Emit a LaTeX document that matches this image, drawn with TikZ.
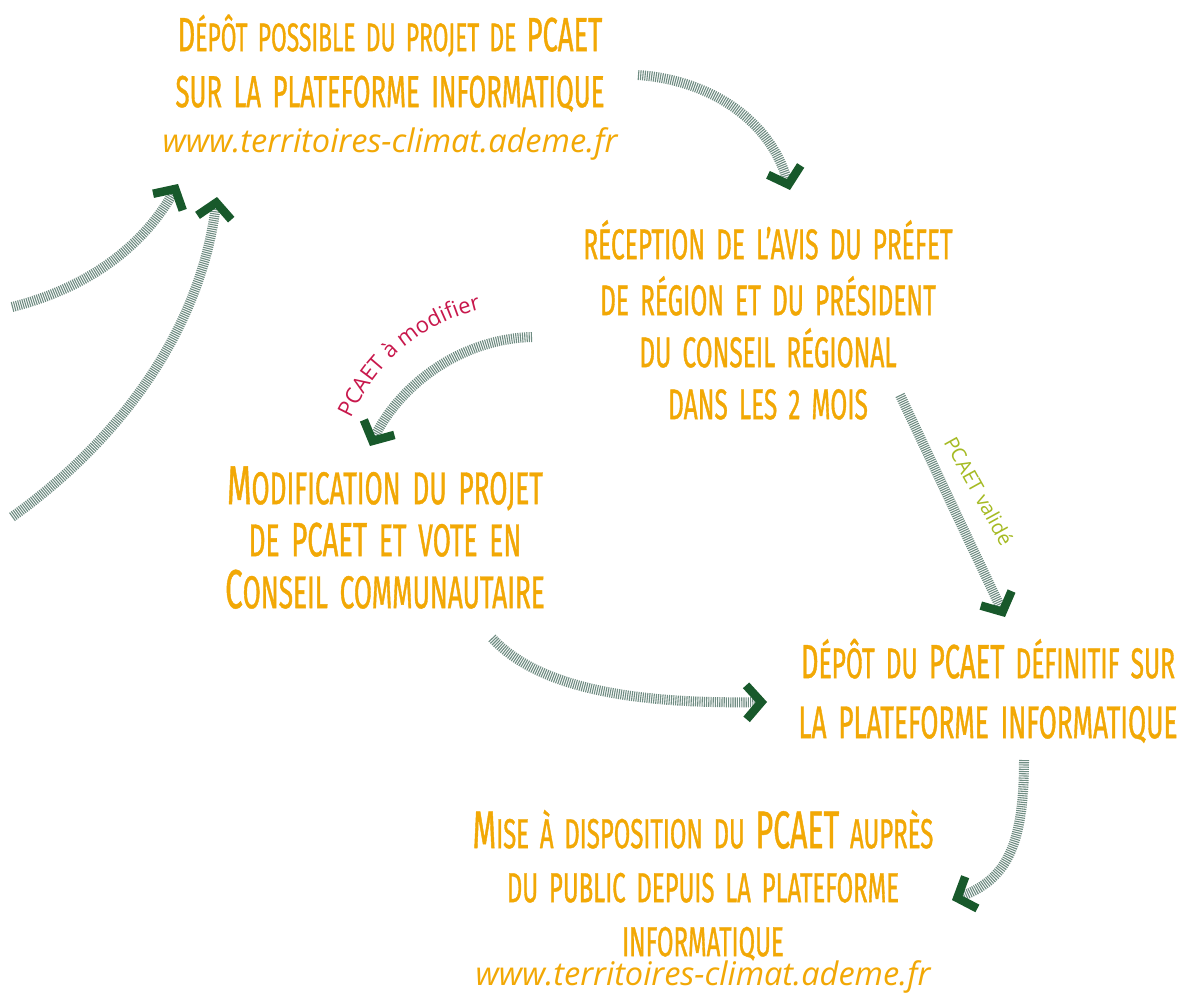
\documentclass[tikz,border=0pt]{standalone}
\usepackage{fontspec}
\usetikzlibrary{arrows.meta,decorations.text}

% condensed capitals for the step texts, humanist sans for links and labels
\newfontfamily\capsfont[FakeStretch=0.57,WordSpace=1.7,FakeBold=0.8]{Fira Sans}
\newfontfamily\plainsans{Open Sans}

\definecolor{txtorange}{HTML}{F2A805}
\definecolor{hatch}{HTML}{6F8C82}
\definecolor{tipgreen}{HTML}{18592B}
\definecolor{labred}{HTML}{C8184C}
\definecolor{labgreen}{HTML}{A5BA22}

% font size helper: \fs{size}{text}
\newcommand\fs[2]{{\fontsize{#1}{#1}\selectfont #2}}
% fixed first-line height, so that a node's north lies 60pt above its first baseline
\newcommand\topline{\rule{0pt}{60pt}\lineskiplimit=-200pt\relax}
\newcommand\weblink{{\plainsans\itshape\fontsize{32.5}{32}\selectfont www.territoires-climat.ademe.fr}}

\tikzset{
  steptext/.style={text=txtorange, align=center, inner sep=0pt, anchor=north},
  flow/.style={draw=hatch, line width=10pt, dash pattern=on 1.1pt off 1.1pt,
    -{Straight Barb[length=15pt,width=34pt,line width=8.5pt,color=tipgreen]}},
  flowlabel/.style={font=\plainsans\fontsize{20}{24}\selectfont, inner sep=0pt}
}

\begin{document}
\begin{tikzpicture}[x=1pt,y=-1pt]
\path[use as bounding box, fill=white] (0,0) rectangle (1187,993);

% step texts (north = first baseline - 60)
\node[steptext, font=\capsfont\fontsize{45}{52}\selectfont] (depot) at (390,-9)
  {\topline\fs{40}{\fs{48}{D}ÉPÔT POSSIBLE DU PROJET DE \fs{48}{PCAET}}\\[4pt]
   SUR LA PLATEFORME INFORMATIQUE\\[-7pt]
   \weblink};
\node[steptext, font=\capsfont\fontsize{43}{52}\selectfont] (avis) at (768,199)
  {\topline RÉCEPTION DE L’AVIS DU PRÉFET\\[4pt]
   DE RÉGION ET DU PRÉSIDENT\\
   DU CONSEIL RÉGIONAL\\
   DANS LES 2 MOIS};
\node[steptext, font=\capsfont\fontsize{46}{52}\selectfont] (modif) at (385,444)
  {\topline\fs{55}{M}ODIFICATION DU PROJET\\
   DE \fs{48}{PCAET} ET VOTE EN\\
   \fs{55}{C}ONSEIL COMMUNAUTAIRE};
\node[steptext, font=\capsfont\fontsize{46}{52}\selectfont] (final) at (988,618)
  {\topline\fs{43}{\fs{48}{D}ÉPÔT DU \fs{48}{PCAET} DÉFINITIF SUR}\\[8pt]
   LA PLATEFORME INFORMATIQUE};
\node[steptext, font=\capsfont\fontsize{42}{54}\selectfont] (public) at (703,788)
  {\topline\fs{53}{M}ISE À DISPOSITION DU \fs{53}{PCAET} AUPRÈS\\
   DU PUBLIC DEPUIS LA PLATEFORME\\
   INFORMATIQUE\\[-25pt]
   \weblink};

% arrow end points
\coordinate (a1s) at (638,75);   \coordinate (a1e) at (790,190);
\coordinate (a2s) at (532,337);  \coordinate (a2e) at (370,446);
\coordinate (a3s) at (900,395);  \coordinate (a3e) at (1005,617);
\coordinate (a4s) at (492,638);  \coordinate (a4e) at (767,702);
\coordinate (a5s) at (1024,760); \coordinate (a5e) at (952,900);
\coordinate (a6s) at (12,307);   \coordinate (a6e) at (178,184);
\coordinate (a7s) at (12,517);   \coordinate (a7e) at (217,197);

% connectors
\draw[flow] (a1s) .. controls (710,80) and (770,120) .. (a1e);
\draw[flow] (a2s) .. controls (460,339) and (400,385) .. (a2e);
\draw[flow] (a3s) -- (a3e);
\draw[flow] (a4s) .. controls (540,690) and (640,704) .. (a4e);
\draw[flow] (a5s) .. controls (1024,850) and (1004,880) .. (a5e);
\draw[flow] (a6s) .. controls (80,290) and (140,252) .. (a6e);
\draw[flow] (a7s) .. controls (120,440) and (200,330) .. (a7e);

% connector labels
\path[decorate, decoration={text along path, text align=center,
    text color=labred,
    text={|\plainsans\fontsize{22}{26}\selectfont|PCAET à modifier}}]
  (342,438) .. controls (376,352) and (432,316) .. (502,305);
\node[flowlabel, text=labgreen, rotate=-61] (valide) at (979,491) {PCAET validé};
\end{tikzpicture}
\end{document}
